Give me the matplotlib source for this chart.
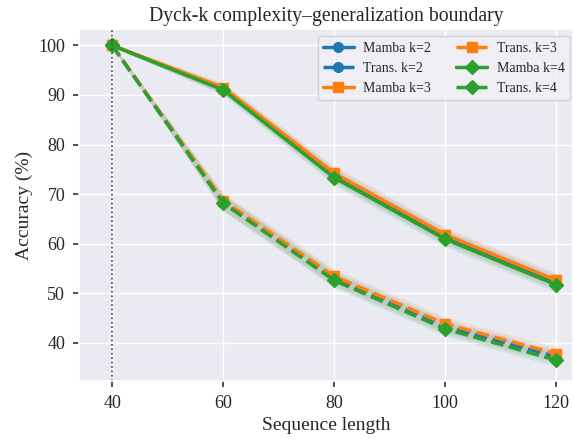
import numpy as np
import matplotlib.pyplot as plt
import seaborn as sns

lengths = [40, 60, 80, 100, 120]

mamba_k2 = [100, 91.2, 73.8, 61.4, 52.2]
trans_k2 = [100, 68.3, 53.0, 43.3, 37.2]
mamba_k3 = [100, 91.5, 74.2, 61.8, 52.6]
trans_k3 = [100, 68.7, 53.4, 43.8, 37.8]
mamba_k4 = [100, 91.0, 73.3, 60.9, 51.7]
trans_k4 = [100, 68.2, 52.6, 42.8, 36.5]

mamba_std = [0.3, 1.0, 1.5, 1.5, 1.5]
trans_std = [0.3, 1.6, 1.5, 1.4, 1.3]

sns.set_theme(style='darkgrid')
plt.rcParams['font.family'] = ['Liberation Serif', 'DejaVu Serif']

colors = {2: '#1f77b4', 3: '#ff7f0e', 4: '#2ca02c'}
markers = {2: 'o', 3: 's', 4: 'D'}

fig, ax = plt.subplots(figsize=(5.73, 4.43), dpi=100)
x = np.array(lengths)

series = [
    (2, mamba_k2, trans_k2),
    (3, mamba_k3, trans_k3),
    (4, mamba_k4, trans_k4),
]
for k, m, t in series:
    c = colors[k]
    m = np.array(m)
    t = np.array(t)
    ax.fill_between(x, m - mamba_std, m + mamba_std, color=c, alpha=0.12, lw=0)
    ax.fill_between(x, t - trans_std, t + trans_std, color=c, alpha=0.12, lw=0)
    ax.plot(x, m, '-', color=c, marker=markers[k], ms=7, lw=2.5, label='Mamba k=%d' % k)
    ax.plot(x, t, '--', color=c, marker=markers[k], ms=7, lw=2.5, label='Trans. k=%d' % k)

ax.axvline(40, color='#444444', ls=':', lw=1.2)

ax.set_xticks(lengths)
ax.set_yticks([40, 50, 60, 70, 80, 90, 100])
ax.set_xlim(34.05, 123)
ax.set_ylim(32.3, 103.3)
ax.tick_params(axis='both', bottom=True, left=True, length=4, width=1.2,
               color='#333333', labelsize=13, pad=6)
ax.set_xlabel('Sequence length', fontsize=14)
ax.set_ylabel('Accuracy (%)', fontsize=14)
ax.set_title('Dyck-k complexity\u2013generalization boundary', fontsize=14.2)

leg = ax.legend(ncol=2, loc='upper right', fontsize=10, frameon=True, handlelength=2.2,
                columnspacing=1.8, labelspacing=0.5, borderpad=0.4, handletextpad=0.7,
                bbox_to_anchor=(0.994, 0.98), borderaxespad=0)
leg.get_frame().set_facecolor('#f0f0f5')

fig.subplots_adjust(left=0.138, right=1.0, top=0.9345, bottom=0.14)
fig.savefig('out.png', dpi=100)
